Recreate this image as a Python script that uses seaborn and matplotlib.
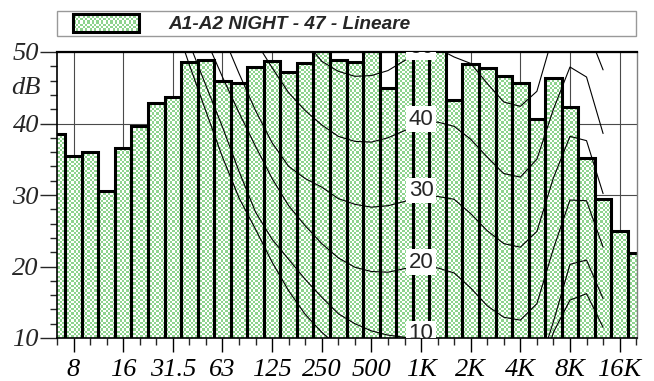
import numpy as np
import pandas as pd
import matplotlib
matplotlib.use("Agg")
import matplotlib.pyplot as plt
import matplotlib.transforms as mtransforms
from matplotlib.colors import ListedColormap
from matplotlib.path import Path
from matplotlib.patches import Rectangle
from matplotlib.legend_handler import HandlerPatch
import seaborn as sns

# ---------------- data ----------------
bands = ["6.3", "8", "10", "12.5", "16", "20", "25", "31.5", "40", "50",
         "63", "80", "100", "125", "160", "200", "250", "315", "400", "500",
         "630", "800", "1K", "1.25K", "1.6K", "2K", "2.5K", "3.15K", "4K", "5K",
         "6.3K", "8K", "10K", "12.5K", "16K", "20K"]

levels_db = [38.6, 35.4, 36.0, 30.5, 36.6, 39.6, 42.8, 43.7, 48.6, 48.9,
             45.9, 45.7, 47.9, 48.8, 47.2, 48.4, 52.0, 48.9, 48.6, 52.0,
             45.0, 52.0, 52.0, 52.0, 43.3, 48.3, 47.7, 46.6, 45.6, 40.6,
             46.4, 42.3, 35.2, 29.4, 24.9, 21.9]

tick_bands = ["8", "16", "31.5", "63", "125", "250", "500", "1K", "2K", "4K", "8K", "16K"]

legend_label = "A1-A2 NIGHT - 47 - Lineare"

# equal-loudness contours, one value per band (6.3 Hz .. 12.5 kHz), None = not drawn
N = None
iso_0 = [N, N, N, N, N, N, N, 55.0, 48.2, 41.7,
         35.3, 29.6, 25.2, 20.6, 16.6, 13.3, 10.8, 8.8, 7.2, 5.8,
         4.8, 4.0, 3.5, 3.8, 3.0, 0.5, -2.0, -4.0, -3.5, 3.0,
         10.8, 15.3, 16.2, 11.5]
iso_10 = [N, N, N, N, N, N, N, N, 51.2, 45.3,
          39.5, 33.3, 27.6, 23.8, 21.0, 18.2, 15.7, 13.4, 12.0, 11.0,
          10.4, 10.1, 10.0, 9.8, 9.0, 6.5, 4.0, 2.5, 2.5, 5.0,
          12.3, 20.3, 20.9, 15.5]
iso_20 = [N, N, N, N, N, N, N, N, N, 51.8,
          46.5, 41.5, 36.8, 32.3, 28.5, 25.7, 23.2, 21.2, 19.9, 19.3,
          19.2, 19.7, 20.0, 19.8, 19.1, 17.0, 14.5, 12.9, 12.5, 14.8,
          22.5, 29.3, 29.2, 22.7]
iso_30 = [N, N, N, N, N, N, N, N, N, N,
          52.5, 47.0, 41.8, 37.3, 34.0, 32.3, 31.1, 29.5, 28.7, 28.3,
          28.5, 29.1, 30.0, 29.8, 29.4, 27.4, 25.0, 23.2, 22.7, 24.9,
          32.4, 38.2, 37.6, 30.2]
iso_40 = [N, N, N, N, N, N, N, N, N, N,
          N, N, 51.5, 47.8, 44.3, 41.8, 39.8, 38.2, 37.5, 37.4,
          38.0, 39.0, 40.0, 40.2, 39.6, 37.8, 35.3, 33.0, 32.5, 35.0,
          42.0, 47.9, 46.5, 38.6]
iso_50 = [N, N, N, N, N, N, N, N, N, N,
          N, N, N, N, 54.5, 51.5, 48.7, 47.3, 46.6, 46.7,
          47.4, 48.8, 50.0, 50.5, 49.3, 48.4, 45.6, 43.0, 42.4, 44.5,
          52.5, 57.0, 53.4, 47.5]
contour_names = ["0", "10", "20", "30", "40", "50"]
contour_values = [iso_0, iso_10, iso_20, iso_30, iso_40, iso_50]
labelled_levels = [10, 20, 30, 40, 50]
label_band = "1K"

# ---------------- style ----------------
GREEN = "#8ed38e"
SERIF = "Liberation Serif"
SANS = "Liberation Sans"
TICK_FS = 19


def checker_texture(h_px, w_px, cell=2.3):
    r = np.floor(np.arange(h_px)[:, None] / cell).astype(int)
    c = np.floor(np.arange(w_px)[None, :] / cell).astype(int)
    return (r + c) % 2


sns.set_style("white")
fig = plt.figure(figsize=(6.54, 3.81), dpi=100)
ax = fig.add_axes([57 / 654, 43 / 381, 580 / 654, 286 / 381])

pos = np.arange(len(bands))
df_bars = pd.DataFrame({"pos": pos, "level": levels_db})
sns.barplot(data=df_bars, x="pos", y="level", native_scale=True, width=1.0,
            color=GREEN, edgecolor="black", linewidth=2.2, errorbar=None,
            ax=ax, zorder=2)
bars = list(ax.patches)

rows = []
for name, vals in zip(contour_names, contour_values):
    for i, v in enumerate(vals):
        if v is not None:
            rows.append((name, i, v))
df_c = pd.DataFrame(rows, columns=["curve", "pos", "db"])
sns.lineplot(data=df_c, x="pos", y="db", units="curve", estimator=None,
             color="black", linewidth=0.8, sort=False, legend=False,
             ax=ax, zorder=4)

x0, x1 = 0.0, 35.05
y0, y1 = 10, 50

# checkered fill of the bars: a pixel-sized texture clipped to the bar shapes
cmap = ListedColormap(["white", GREEN])
im = ax.imshow(checker_texture(286, 580), cmap=cmap, extent=(x0, x1, y0, y1),
               origin="upper", aspect="auto", interpolation="nearest", zorder=1.5)
paths = [b.get_path().transformed(b.get_patch_transform()) for b in bars]
im.set_clip_path(Path.make_compound_path(*paths), ax.transData)
for b in bars:
    b.set_facecolor("none")

ax.set_xlim(x0, x1)
ax.set_ylim(y0, y1)
ax.set_xlabel("")
ax.set_ylabel("")

major_pos = [bands.index(b) for b in tick_bands]
minor_pos = [i for i in range(len(bands)) if i not in major_pos]
ax.set_xticks(major_pos, tick_bands, fontfamily=SERIF, fontstyle="italic", fontsize=TICK_FS)
ax.set_xticks(minor_pos, minor=True)
ymaj = [10, 20, 30, 40, 50]
ax.set_yticks(ymaj, [str(v) for v in ymaj], fontfamily=SERIF, fontstyle="italic", fontsize=TICK_FS)
ax.set_yticks([v for v in range(10, 51, 2) if v not in ymaj], minor=True)

ax.tick_params(axis="x", which="major", length=10, width=1.0, pad=5, colors="black", bottom=True)
ax.tick_params(axis="x", which="minor", length=5, width=1.0, bottom=True)
ax.tick_params(axis="y", which="major", length=12, width=1.0, pad=1, left=True)
ax.tick_params(axis="y", which="minor", length=5, width=1.0, left=True)

ax.set_axisbelow(True)
ax.grid(True, which="major", color="#4a4a4a", linewidth=0.8)

for side, col, lw in [("top", "black", 1.6), ("left", "black", 1.2),
                      ("bottom", "black", 1.2), ("right", "#808080", 1.0)]:
    ax.spines[side].set_visible(True)
    ax.spines[side].set_color(col)
    ax.spines[side].set_linewidth(lw)

ax.text(-0.029, 45, "dB", transform=mtransforms.blended_transform_factory(ax.transAxes, ax.transData),
        ha="right", va="center", fontfamily=SERIF, fontstyle="italic", fontsize=TICK_FS)

xk = bands.index(label_band)
for lv in labelled_levels:
    ax.text(xk, lv + 0.6, str(lv), ha="center", va="center", fontfamily=SANS, fontsize=16,
            bbox=dict(boxstyle="square,pad=0.1", fc="white", ec="none"),
            clip_on=True, zorder=5)

# legend
def swatch(legend, orig_handle, xdescent, ydescent, width, height, fontsize):
    off = 9.4
    return Rectangle((-xdescent + off, -ydescent), width - off, height)

handle = Rectangle((0, 0), 1, 1, facecolor="none", edgecolor="black", linewidth=2.2)
LEG_FS = 13.7
leg = ax.legend(handles=[handle], labels=[legend_label],
                handler_map={handle: HandlerPatch(patch_func=swatch)},
                loc="lower left", bbox_to_anchor=(0, 1 + 15.7 / 286, 0.9985, 0.05),
                mode="expand", borderaxespad=0, frameon=True, fancybox=False,
                handlelength=56.9 / LEG_FS, handleheight=15.1 / LEG_FS,
                handletextpad=21.5 / LEG_FS, borderpad=0.15,
                prop={"family": SANS, "weight": "bold", "style": "italic", "size": LEG_FS})
fr = leg.get_frame()
fr.set_facecolor("none")
fr.set_edgecolor("#808080")
fr.set_linewidth(1.0)

fig.canvas.draw()
bb = leg.legend_handles[0].get_window_extent(fig.canvas.get_renderer())
fb = bb.transformed(fig.transFigure.inverted())
iax = fig.add_axes([fb.x0, fb.y0, fb.width, fb.height], zorder=-1)
iax.imshow(checker_texture(int(round(bb.height)), int(round(bb.width))), cmap=cmap,
           interpolation="nearest", aspect="auto")
iax.set_axis_off()

fig.savefig("out.png", dpi=100)
